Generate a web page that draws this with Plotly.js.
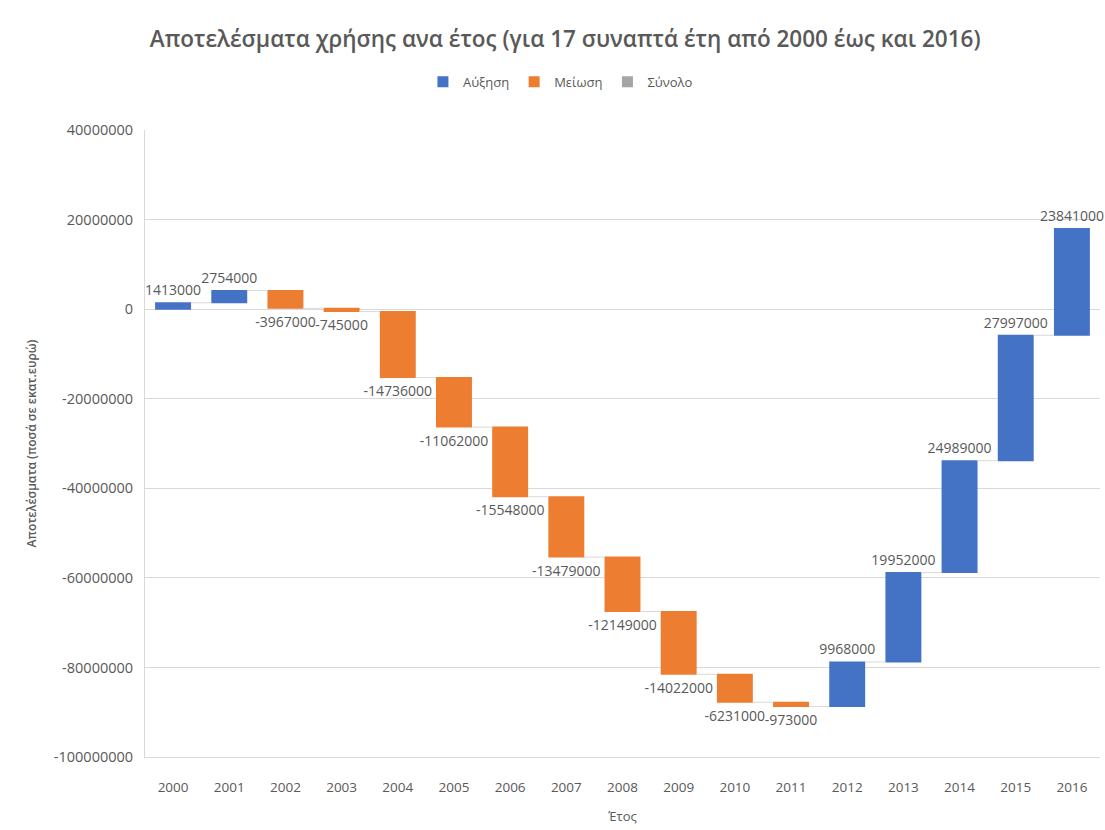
<!DOCTYPE html>
<html>
<head>
<meta charset="utf-8">
<script src="https://cdn.plot.ly/plotly-3.0.1.min.js"></script>
<style>
  html, body { margin: 0; padding: 0; background: #fff; }
  #chart { width: 1105px; height: 830px; }
</style>
</head>
<body>
<div id="chart"></div>
<script>
// Annual results (euro), one step per year
const years = ['2000','2001','2002','2003','2004','2005','2006','2007','2008',
               '2009','2010','2011','2012','2013','2014','2015','2016'];
const results = [1413000, 2754000, -3967000, -745000, -14736000, -11062000,
                 -15548000, -13479000, -12149000, -14022000, -6231000, -973000,
                 9968000, 19952000, 24989000, 27997000, 23841000];
const legendNames = ['Αύξηση', 'Μείωση', 'Σύνολο'];
const yTickValues = [40000000, 20000000, 0, -20000000, -40000000, -60000000, -80000000, -100000000];
const yTickLabels = ['40000000', '20000000', '0', '-20000000', '-40000000', '-60000000', '-80000000', '-100000000'];
const colors = { up: '#4472C4', down: '#ED7D31', total: '#A5A5A5' };

const textColor = '#595959';
const fontFam = '"Open Sans", "Noto Sans", sans-serif';

const waterfall = {
  type: 'waterfall',
  x: years,
  y: results,
  measure: years.map(() => 'relative'),
  text: results.map(v => String(v)),
  textposition: 'outside',
  constraintext: 'none',
  textfont: { family: fontFam, size: 14, color: textColor },
  cliponaxis: false,
  increasing: { marker: { color: colors.up } },
  decreasing: { marker: { color: colors.down } },
  totals: { marker: { color: colors.total } },
  connector: { line: { color: '#d9d9d9', width: 1 } },
  showlegend: false,
  hoverinfo: 'x+y'
};

// Legend swatches for the three bar kinds
const swatches = legendNames.map((name, i) => ({
  type: 'scatter',
  mode: 'markers',
  x: [null], y: [null],
  name: name,
  marker: { symbol: 'square', size: 11,
            color: [colors.up, colors.down, colors.total][i] },
  hoverinfo: 'skip'
}));

const layout = {
  width: 1105, height: 830,
  margin: { l: 145, r: 5, t: 130, b: 73 },
  paper_bgcolor: '#fff', plot_bgcolor: '#fff',
  font: { family: fontFam, color: textColor },
  title: {
    text: 'Αποτελέσματα χρήσης ανα έτος (για 17 συναπτά έτη από 2000 έως και 2016)',
    font: { family: fontFam, size: 22.5, color: textColor, weight: 600 },
    xref: 'paper', x: 0.44, xanchor: 'center', y: 0.953, yanchor: 'middle'
  },
  legend: {
    orientation: 'h', x: 0.435, xanchor: 'center', y: 1.077, yanchor: 'middle',
    font: { family: fontFam, size: 13, color: textColor },
    itemwidth: 30
  },
  waterfallgap: 0.36,
  xaxis: {
    type: 'category',
    showgrid: false,
    showline: true, linecolor: '#d9d9d9', linewidth: 1,
    tickfont: { family: fontFam, size: 13.5, color: textColor },
    ticks: '', ticklabelstandoff: 18,
    title: { text: 'Έτος', font: { family: fontFam, size: 13, color: textColor }, standoff: 16 }
  },
  yaxis: {
    range: [-100000000, 40000000],
    tickmode: 'array',
    tickvals: yTickValues,
    ticktext: yTickLabels,
    showgrid: true, gridcolor: '#d9d9d9', gridwidth: 1,
    zeroline: false,
    showline: true, linecolor: '#d9d9d9', linewidth: 1,
    tickfont: { family: fontFam, size: 14.5, color: textColor },
    ticks: '', ticklabelstandoff: 8,
    title: { text: 'Αποτελέσματα (ποσά σε εκατ.ευρώ)',
             font: { family: fontFam, size: 12, color: textColor, weight: 600 }, standoff: 14 }
  }
};

Plotly.newPlot('chart', [waterfall, ...swatches], layout, { displayModeBar: false, staticPlot: true });
</script>
</body>
</html>
